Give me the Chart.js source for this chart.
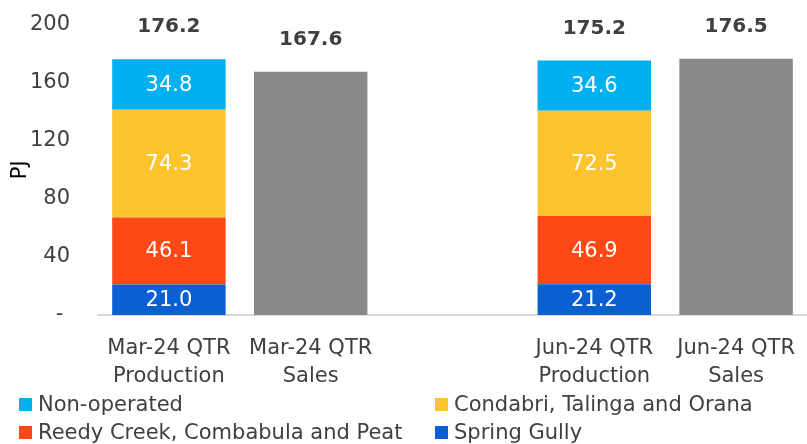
<!DOCTYPE html>
<html>
<head>
<meta charset="utf-8">
<script src="https://cdn.jsdelivr.net/npm/chart.js@4/dist/chart.umd.min.js"></script>
<style>
  html, body { margin: 0; padding: 0; background: #fff; }
  #wrap { position: relative; width: 807px; height: 444px; overflow: hidden; }
  #box { position: absolute; left: 0; top: -8px; width: 807px; height: 400px; }
  #legend { position: absolute; left: 19px; top: 390px; width: 788px;
    font-family: "DejaVu Sans", sans-serif; font-size: 21px; color: #404040;
    display: grid; grid-template-columns: 416px auto; }
  #legend span.item { display: flex; align-items: center; white-space: nowrap; height: 28px; }
  #legend i { display: inline-block; width: 13px; height: 13px; margin-right: 6px; }
</style>
</head>
<body>
<div id="wrap">
  <div id="box"><canvas id="chart"></canvas></div>
  <div id="legend"></div>
</div>
<script>
const categories = [["Mar-24 QTR", "Production"], ["Mar-24 QTR", "Sales"], "", ["Jun-24 QTR", "Production"], ["Jun-24 QTR", "Sales"]];
const springGully = [21.0, null, null, 21.2, null];
const reedyCreek = [46.1, null, null, 46.9, null];
const condabri = [74.3, null, null, 72.5, null];
const nonOperated = [34.8, null, null, 34.6, null];
const sales = [null, 167.6, null, null, 176.5];
const totals = [176.2, 167.6, null, 175.2, 176.5];
const yTicks = [0, 40, 80, 120, 160, 200];

const FONT = "'DejaVu Sans', sans-serif";
const TEXT = "#404040";

const datasets = [
  { label: "Spring Gully", data: springGully, backgroundColor: "#0A5FD3" },
  { label: "Reedy Creek, Combabula and Peat", data: reedyCreek, backgroundColor: "#FD4916" },
  { label: "Condabri, Talinga and Orana", data: condabri, backgroundColor: "#FEC42D" },
  { label: "Non-operated", data: nonOperated, backgroundColor: "#00B0F0" },
  { label: "Sales", data: sales, backgroundColor: "#898989", noLabel: true }
];

// legend, in the order of the reference
const legendOrder = [3, 2, 1, 0];
document.getElementById("legend").innerHTML = legendOrder.map((i) =>
  `<span class="item"><i style="background:${datasets[i].backgroundColor}"></i>${datasets[i].label}</span>`
).join("");

const valueLabels = {
  id: "valueLabels",
  afterDatasetsDraw(chart) {
    const ctx = chart.ctx;
    ctx.save();
    ctx.textAlign = "center";
    ctx.textBaseline = "middle";
    ctx.font = "21px " + FONT;
    ctx.fillStyle = "#fff";
    chart.data.datasets.forEach((ds, di) => {
      if (ds.noLabel) return;
      chart.getDatasetMeta(di).data.forEach((bar, i) => {
        if (ds.data[i] == null) return;
        ctx.fillText(ds.data[i].toFixed(1), bar.x, (bar.y + bar.base) / 2 + 1);
      });
    });
    // totals above each bar
    ctx.font = "bold 20px " + FONT;
    ctx.fillStyle = TEXT;
    totals.forEach((t, i) => {
      if (t == null) return;
      let top = Infinity, x = 0;
      chart.data.datasets.forEach((ds, di) => {
        if (ds.data[i] == null) return;
        const bar = chart.getDatasetMeta(di).data[i];
        top = Math.min(top, bar.y);
        x = bar.x;
      });
      ctx.fillText(t.toFixed(1), x, top - 32);
    });
    ctx.restore();
  }
};

new Chart(document.getElementById("chart"), {
  type: "bar",
  data: { labels: categories, datasets: datasets },
  options: {
    responsive: true,
    maintainAspectRatio: false,
    animation: false,
    layout: { padding: 0 },
    datasets: { bar: { categoryPercentage: 1, barPercentage: 0.8 } },
    plugins: { legend: { display: false }, tooltip: { enabled: false } },
    scales: {
      x: {
        stacked: true,
        grid: { display: false },
        border: { display: true, color: "#d9d9d9", width: 2 },
        afterFit: (s) => { s.height = 77; },
        ticks: { color: TEXT, font: { family: FONT, size: 21, lineHeight: 1.33 }, padding: 12, maxRotation: 0 }
      },
      y: {
        stacked: true,
        min: 0,
        max: 200,
        afterBuildTicks: (s) => { s.ticks = yTicks.map((v) => ({ value: v })); },
        afterFit: (s) => { s.width = 98; },
        grid: { display: false },
        border: { display: false },
        title: { display: true, text: "PJ", color: "#000", font: { family: FONT, size: 21 }, padding: { top: 8, bottom: 0 } },
        ticks: {
          color: TEXT, font: { family: FONT, size: 21 }, padding: 20,
          callback: (v) => (v === 0 ? "- " : v)
        }
      }
    }
  },
  plugins: [valueLabels]
});
</script>
</body>
</html>
